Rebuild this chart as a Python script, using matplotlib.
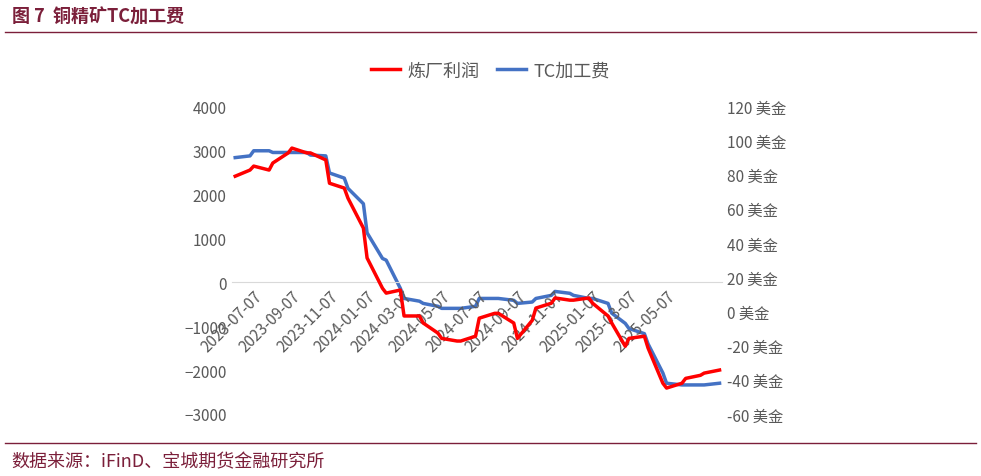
import numpy as np
import pandas as pd
import matplotlib
matplotlib.use("Agg")
import matplotlib.pyplot as plt

plt.rcParams['font.family'] = ['Noto Sans CJK SC', 'DejaVu Sans']

dates = pd.date_range("2023-06-07", periods=52, freq="SMS-7")
profit = [2410, 2550, 2640, 2550, 2710, 2940, 3050, 2940, 2940, 2780,
          2250, 2140, 1910, 1230, 550, -140, -250, -180, -770, -770,
          -930, -1160, -1280, -1340, -1340, -1230, -820, -710, -710, -930,
          -1280, -870, -590, -480, -360, -410, -410, -360, -480, -770,
          -930, -1460, -1280, -1230, -1500, -2300, -2410, -2300, -2190, -2120,
          -2070, -2000]
tc = [90, 91, 94, 94, 93, 93, 93, 93, 91.5, 91,
      81, 78, 72, 63, 46, 31, 30, 13.5, 7.6, 6,
      4.7, 3, 1.8, 1.8, 1.8, 3, 7.6, 7.6, 7.6, 6.5,
      4.7, 5.5, 7.6, 9.4, 11.7, 10.6, 9.4, 7.6, 7.6, 4.7,
      -1, -7, -10, -13, -19, -36, -42, -43, -43, -43,
      -43, -42]
dates = list(dates[:len(profit)])
tick_dates = pd.date_range("2023-06-07", "2025-06-07", freq="2MS") + pd.Timedelta(days=6)

red = "#FF0000"
blue = "#4472C4"
title_c = "#7B1F3A"

fig = plt.figure(figsize=(9.81, 4.77), dpi=100)
ax = fig.add_axes([0.236, 0.13, 0.5, 0.645])
ax2 = ax.twinx()

ax.plot(dates, profit, color=red, lw=2.5, label="炼厂利润", zorder=3)
ax2.plot(dates, tc, color=blue, lw=2.5, label="TC加工费", zorder=2)
ax.set_zorder(ax2.get_zorder() + 1)
ax.patch.set_visible(False)

for a in (ax, ax2):
    for s in a.spines.values():
        s.set_visible(False)
ax.spines['bottom'].set_position(('data', 0))
ax.spines['bottom'].set_visible(True)
ax.spines['bottom'].set_color("#D9D9D9")

ax.set_ylim(-3000, 4000)
ax.set_yticks(range(-3000, 4001, 1000))
ax2.set_ylim(-60, 120)
ax2.set_yticks(range(-60, 121, 20))
ax2.set_yticklabels([f"{v} 美金" for v in range(-60, 121, 20)])
ax.set_xlim(pd.Timestamp("2023-06-01"), pd.Timestamp("2025-08-05"))
ax.set_xticks(tick_dates)
ax.set_xticklabels([d.strftime("%Y-%m-%d") for d in tick_dates], rotation=45,
                   ha="right", rotation_mode="anchor")
for a in (ax, ax2):
    a.tick_params(length=0, labelsize=11, colors="#595959")

h1, l1 = ax.get_legend_handles_labels()
h2, l2 = ax2.get_legend_handles_labels()
fig.legend(h1 + h2, l1 + l2, loc="center", bbox_to_anchor=(0.5, 0.85), ncol=2,
           frameon=False, fontsize=13, labelcolor="#595959", handlelength=1.6,
           columnspacing=1.0, handletextpad=0.4)

fig.text(0.012, 0.965, "图 7  铜精矿TC加工费", color=title_c, fontsize=13,
         fontweight="bold", va="center")
fig.add_artist(plt.Line2D([0.005, 0.995], [0.93, 0.93], color=title_c, lw=1))
fig.add_artist(plt.Line2D([0.005, 0.995], [0.07, 0.07], color=title_c, lw=1))
fig.text(0.012, 0.03, "数据来源：iFinD、宝城期货金融研究所", color=title_c,
         fontsize=13, va="center")

fig.savefig("out.png", dpi=100)
